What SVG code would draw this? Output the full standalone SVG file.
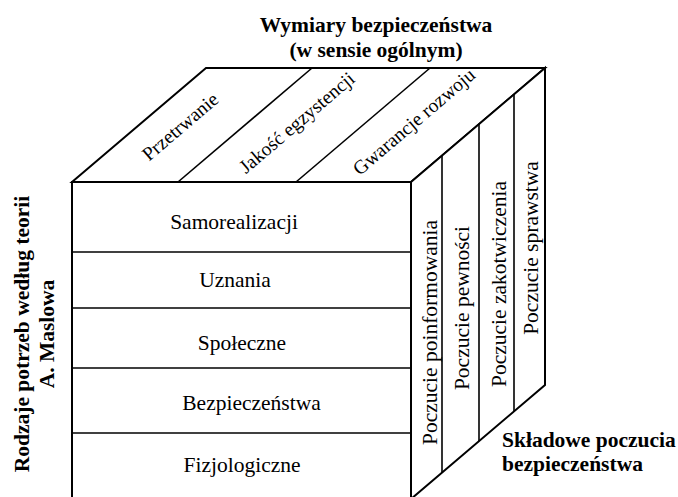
<svg xmlns="http://www.w3.org/2000/svg" width="678" height="497" viewBox="0 0 678 497">
<style>
  .face { fill: #ffffff; stroke: #000000; stroke-width: 2; stroke-linejoin: miter; }
  .div { fill: none; stroke: #000000; stroke-width: 1.6; }
  text { font-family: 'Liberation Serif', 'Times New Roman', Tinos, 'DejaVu Serif', serif; fill: #000000; }
  .t { font-size: 21.5px; text-anchor: middle; }
  .tt { font-size: 19.5px; text-anchor: middle; }
  .b { font-size: 21.5px; font-weight: bold; }
</style>
<rect width="678" height="497" fill="#ffffff"/>

<g id="title-top" font-family="Liberation Serif, DejaVu Serif, serif">
  <text class="b" x="376" y="32" text-anchor="middle">Wymiary bezpieczeństwa</text>
  <text class="b" x="376" y="57" text-anchor="middle">(w sensie ogólnym)</text>
</g>

<g id="title-left">
  <text class="b" transform="translate(28.5,334) rotate(-90)" x="0" y="0" text-anchor="middle">Rodzaje potrzeb według teorii</text>
  <text class="b" transform="translate(53.5,334) rotate(-90)" x="0" y="0" text-anchor="middle">A. Maslowa</text>
</g>

<g id="title-right">
  <text class="b" x="502" y="446.5">Składowe poczucia</text>
  <text class="b" x="502" y="471">bezpieczeństwa</text>
</g>

<g id="top-face">
  <polygon class="face" points="72,182 206,68 545,68 411,182"/>
  <g id="connectors-top">
    <line class="div" x1="178" y1="182" x2="312" y2="68"/>
    <line class="div" x1="296" y1="182" x2="430" y2="68"/>
  </g>
  <g id="top-przetrwanie">
    <text class="tt" transform="translate(184.5,131.5) rotate(-40.4)">Przetrwanie</text>
  </g>
  <g id="top-jakosc">
    <text class="tt" transform="translate(301,127.5) rotate(-40.4)">Jakość egzystencji</text>
  </g>
  <g id="top-gwarancje">
    <text class="tt" transform="translate(418,126.5) rotate(-40.4)">Gwarancje rozwoju</text>
  </g>
</g>

<g id="right-face">
  <polygon class="face" points="411,182 545,68 545,385 411,499"/>
  <g id="connectors-right">
    <line class="div" x1="442" y1="155.6" x2="442" y2="472.6"/>
    <line class="div" x1="479" y1="124.1" x2="479" y2="441.1"/>
    <line class="div" x1="514" y1="94.4" x2="514" y2="411.4"/>
  </g>
  <g id="right-poinformowania">
    <text class="t" transform="translate(436.5,332.5) rotate(-90)">Poczucie poinformowania</text>
  </g>
  <g id="right-pewnosci">
    <text class="t" transform="translate(469,308) rotate(-90)">Poczucie pewności</text>
  </g>
  <g id="right-zakotwiczenia">
    <text class="t" transform="translate(505.5,284) rotate(-90)">Poczucie zakotwiczenia</text>
  </g>
  <g id="right-sprawstwa">
    <text class="t" transform="translate(538,248) rotate(-90)">Poczucie sprawstwa</text>
  </g>
</g>

<g id="front-face">
  <rect class="face" x="72" y="182" width="339" height="317"/>
  <g id="connectors-front">
    <line class="div" x1="72" y1="252" x2="411" y2="252"/>
    <line class="div" x1="72" y1="308" x2="411" y2="308"/>
    <line class="div" x1="72" y1="368" x2="411" y2="368"/>
    <line class="div" x1="72" y1="433" x2="411" y2="433"/>
  </g>
  <g id="front-samorealizacji">
    <text class="t" x="234" y="229">Samorealizacji</text>
  </g>
  <g id="front-uznania">
    <text class="t" x="235" y="287">Uznania</text>
  </g>
  <g id="front-spoleczne">
    <text class="t" x="242" y="350">Społeczne</text>
  </g>
  <g id="front-bezpieczenstwa">
    <text class="t" x="251.5" y="410">Bezpieczeństwa</text>
  </g>
  <g id="front-fizjologiczne">
    <text class="t" x="242" y="471.5">Fizjologiczne</text>
  </g>
</g>
</svg>
